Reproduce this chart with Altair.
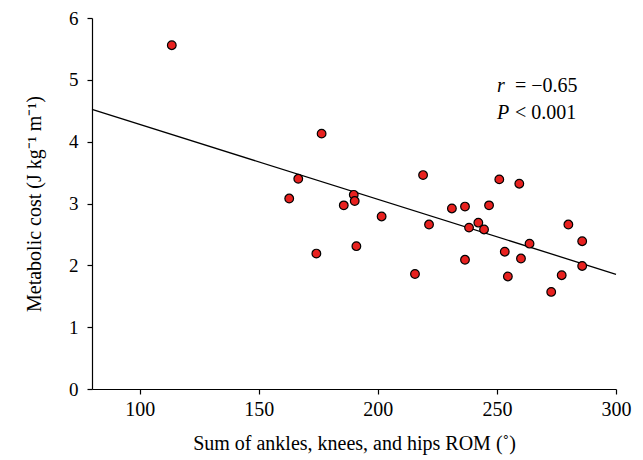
import altair as alt
import pandas as pd

rom = [113.5, 176.4, 166.6, 162.8, 189.9, 190.3, 185.7, 201.6, 191.0, 174.2,
       219.0, 221.5, 215.6, 231.1, 236.6, 238.3, 242.2, 244.6, 246.7, 236.6,
       251.0, 259.4, 253.3, 260.1, 263.7, 254.6, 272.8, 277.2, 280.0, 285.8, 285.8]
cost = [5.56, 4.13, 3.40, 3.08, 3.14, 3.04, 2.97, 2.79, 2.31, 2.19,
        3.46, 2.66, 1.86, 2.92, 2.95, 2.61, 2.69, 2.58, 2.97, 2.09,
        3.39, 3.32, 2.22, 2.11, 2.35, 1.82, 1.57, 1.84, 2.66, 2.39, 1.99]

x_ticks = [100, 150, 200, 250, 300]
y_ticks = [0, 1, 2, 3, 4, 5, 6]

ann_x = [250.0, 250.0]
ann_y = [4.90, 4.47]
ann_sym = ["r", "P"]
ann_rest = ["= \u22120.65", "< 0.001"]

df = pd.DataFrame({"rom": rom, "cost": cost})
ann = pd.DataFrame({"x": ann_x, "y": ann_y, "sym": ann_sym, "rest": ann_rest})

FONT = "Liberation Serif"

xs = alt.Scale(domain=[80, 300], nice=False, zero=False)
ys = alt.Scale(domain=[0, 6], nice=False)

xax = alt.Axis(values=x_ticks, format="d", title="Sum of ankles, knees, and hips ROM (\u02da)",
               grid=False, labelFlush=False, titlePadding=14, labelPadding=5)
yax = alt.Axis(values=y_ticks, format="d", title="Metabolic cost (J kg\u207b\u00b9 m\u207b\u00b9)",
               grid=False, labelPadding=9, titlePadding=24, labelFontSize=19)

line = alt.Chart(df).transform_regression("rom", "cost", extent=[80, 300]).mark_line(
    color="black", strokeWidth=1.3
).encode(
    x=alt.X("rom:Q", scale=xs, axis=xax),
    y=alt.Y("cost:Q", scale=ys, axis=yax),
)

pts = alt.Chart(df).mark_point(
    filled=True, fill="#e8211f", stroke="black", strokeWidth=1.2, size=75, opacity=1
).encode(
    x=alt.X("rom:Q", scale=xs),
    y=alt.Y("cost:Q", scale=ys),
)

sym = alt.Chart(ann).mark_text(
    font=FONT, fontSize=20, fontStyle="italic", align="left", baseline="middle", color="black"
).encode(x=alt.X("x:Q", scale=xs), y=alt.Y("y:Q", scale=ys), text="sym:N")

rest = alt.Chart(ann).mark_text(
    font=FONT, fontSize=20, align="left", baseline="middle", color="black", dx=18
).encode(x=alt.X("x:Q", scale=xs), y=alt.Y("y:Q", scale=ys), text="rest:N")

chart = alt.layer(line, pts, sym, rest).properties(
    width=524, height=371,
    autosize=alt.AutoSizeParams(type="none"),
    padding={"left": 84, "top": 10, "right": 19, "bottom": 70},
).configure_view(stroke=None).configure_axis(
    labelFont=FONT, titleFont=FONT, labelFontSize=20, titleFontSize=20,
    titleFontWeight="normal", labelColor="black", titleColor="black",
    domainColor="black", tickColor="black", tickSize=5, domainWidth=1.2, tickWidth=1.2,
)

chart.save("out.html", embed_options={"renderer": "svg", "actions": False})
